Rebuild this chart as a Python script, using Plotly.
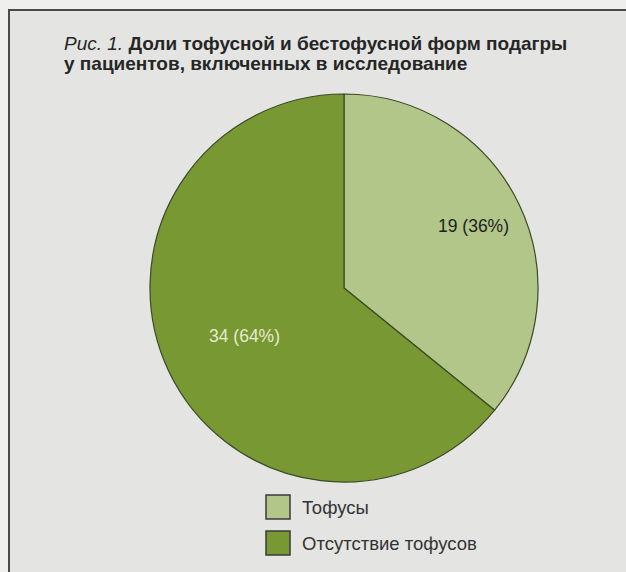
import math
import plotly.graph_objects as go

# Data: patients by gout form
labels = ["Тофусы", "Отсутствие тофусов"]
values = [19, 34]
colors = ["#b2c689", "#779832"]
text_colors = ["#1e1e1e", "#e6ebcc"]
label_radius = [0.74, 0.57]   # fraction of pie radius where each value label sits

title_lines = [
    "<i>Рис. 1.</i> <b>Доли тофусной и бестофусной форм подагры</b>",
    "<b>у пациентов, включенных в исследование</b>",
]

W, H = 626, 572
FONT = "Liberation Sans, Arial, sans-serif"

# pie placement in pixels
cx, cy, R = 344, 288, 194

fig = go.Figure()
fig.add_trace(go.Pie(
    labels=labels,
    values=values,
    sort=False,
    direction="clockwise",
    rotation=0,
    marker=dict(colors=colors, line=dict(color="#3c4a26", width=1.2)),
    textinfo="none",
    domain=dict(x=[(cx - R) / W, (cx + R) / W], y=[1 - (cy + R) / H, 1 - (cy - R) / H]),
    showlegend=False,
    hoverinfo="label+value+percent",
))

shapes = [
    # page frame
    dict(type="rect", xref="paper", yref="paper", x0=9 / W, x1=1.05, y0=-0.05, y1=1 - 10 / H,
         line=dict(color="#4a4a4a", width=2), fillcolor="#e4e4e2", layer="below"),
]

annotations = []
for i, line in enumerate(title_lines):
    annotations.append(dict(
        text=line, xref="paper", yref="paper", x=62 / W, y=1 - (43 + i * 21) / H,
        xanchor="left", yanchor="middle", showarrow=False,
        font=dict(family=FONT, size=19, color="#262626"),
    ))

# value labels placed along each slice's mid-angle (clockwise from 12 o'clock)
total = sum(values)
start = 0.0
for v, tc, rf in zip(values, text_colors, label_radius):
    frac = v / total
    mid = (start + frac / 2) * 2 * math.pi
    start += frac
    px = cx + rf * R * math.sin(mid)
    py = cy - rf * R * math.cos(mid)
    annotations.append(dict(
        text=f"{v} ({round(frac * 100)}%)", xref="paper", yref="paper",
        x=px / W, y=1 - py / H, xanchor="center", yanchor="middle", showarrow=False,
        font=dict(family=FONT, size=17.5, color=tc),
    ))

# legend drawn as swatches with captions
for i, (lab, col) in enumerate(zip(labels, colors)):
    yc = 507 + i * 36
    shapes.append(dict(
        type="rect", xref="paper", yref="paper",
        x0=266 / W, x1=290 / W, y0=1 - (yc + 12) / H, y1=1 - (yc - 12) / H,
        fillcolor=col, line=dict(color="#3a3a3a", width=1.5),
    ))
    annotations.append(dict(
        text=lab, xref="paper", yref="paper", x=300 / W, y=1 - yc / H,
        xanchor="left", yanchor="middle", showarrow=False,
        font=dict(family=FONT, size=18.5, color="#333333"),
    ))

fig.update_layout(
    width=W, height=H,
    margin=dict(l=0, r=0, t=0, b=0),
    paper_bgcolor="#efefed",
    plot_bgcolor="#efefed",
    shapes=shapes,
    annotations=annotations,
)

fig.write_html("out.html")
